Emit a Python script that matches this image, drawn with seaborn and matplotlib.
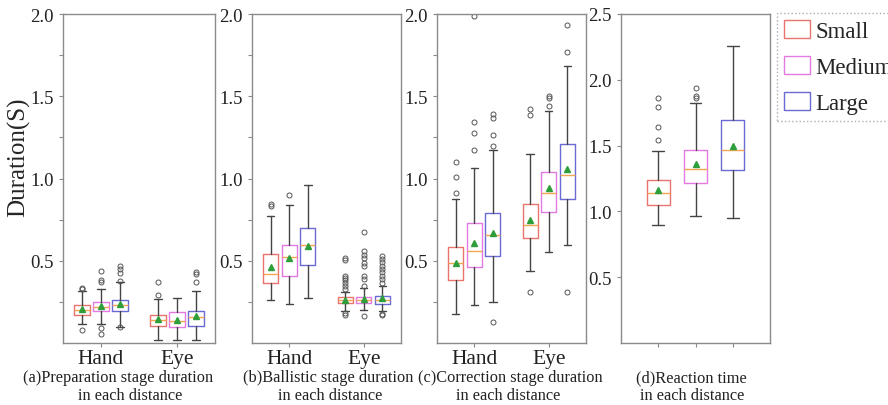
import numpy as np
import matplotlib.pyplot as plt
import seaborn as sns
from matplotlib.patches import Patch

# Set graph style
sns.set_style("ticks")
plt.rcParams['font.family'] = ['Liberation Serif', 'DejaVu Serif']

sizes = ['Small', 'Medium', 'Large']
modes = ['Hand', 'Eye']
box_colors = ['#e8746c', '#e27ae2', '#6a6ad6']

# Box order in panels a-c: Hand Small, Hand Medium, Hand Large, Eye Small, Eye Medium, Eye Large

# (a) Preparation stage duration
prep_lo = [0.115, 0.115, 0.10, 0.02, 0.02, 0.02]
prep_q1 = [0.172, 0.193, 0.196, 0.105, 0.095, 0.105]
prep_med = [0.20, 0.217, 0.231, 0.142, 0.136, 0.156]
prep_q3 = [0.231, 0.251, 0.263, 0.172, 0.187, 0.196]
prep_hi = [0.314, 0.328, 0.369, 0.267, 0.273, 0.318]
prep_mean = [0.207, 0.223, 0.237, 0.146, 0.139, 0.162]
prep_fliers = [[0.328, 0.333, 0.079],
               [0.369, 0.383, 0.44, 0.091, 0.055],
               [0.375, 0.425, 0.45, 0.47, 0.095],
               [0.294, 0.369],
               [],
               [0.373, 0.42, 0.433]]

# (b) Ballistic stage duration
ball_lo = [0.263, 0.239, 0.275, 0.196, 0.20, 0.193]
ball_q1 = [0.363, 0.405, 0.474, 0.241, 0.241, 0.239]
ball_med = [0.419, 0.521, 0.596, 0.26, 0.26, 0.264]
ball_q3 = [0.541, 0.596, 0.697, 0.278, 0.278, 0.286]
ball_hi = [0.774, 0.841, 0.962, 0.312, 0.333, 0.345]
ball_mean = [0.46, 0.519, 0.588, 0.264, 0.266, 0.274]
ball_fliers = [[0.835, 0.843],
               [0.90],
               [],
               [0.328, 0.348, 0.365, 0.381, 0.397, 0.409, 0.505, 0.515, 0.182, 0.17],
               [0.348, 0.389, 0.405, 0.466, 0.484, 0.517, 0.537, 0.557, 0.677, 0.166],
               [0.365, 0.389, 0.409, 0.43, 0.45, 0.47, 0.49, 0.51, 0.527, 0.178, 0.168]]

# (c) Correction stage duration
corr_lo = [0.176, 0.231, 0.251, 0.44, 0.551, 0.596]
corr_q1 = [0.385, 0.464, 0.529, 0.638, 0.798, 0.875]
corr_med = [0.484, 0.561, 0.655, 0.717, 0.91, 1.021]
corr_q3 = [0.582, 0.729, 0.792, 0.845, 1.04, 1.21]
corr_hi = [0.875, 1.064, 1.175, 1.151, 1.408, 1.686]
corr_mean = [0.487, 0.61, 0.669, 0.748, 0.942, 1.056]
corr_fliers = [[0.91, 1.007, 1.098],
               [1.173, 1.275, 1.341, 1.99],
               [1.20, 1.264, 1.368, 1.392, 0.13],
               [1.386, 1.422, 0.308],
               [1.439, 1.489, 1.503],
               [1.767, 1.933, 0.308]]

# (d) Reaction time: Small, Medium, Large
react_lo = [0.897, 0.963, 0.95]
react_q1 = [1.051, 1.218, 1.317]
react_med = [1.14, 1.32, 1.467]
react_q3 = [1.241, 1.464, 1.692]
react_hi = [1.461, 1.821, 2.255]
react_mean = [1.163, 1.36, 1.499]
react_fliers = [[1.543, 1.641, 1.796, 1.862],
                [1.862, 1.879, 1.94],
                []]

captions = [('(a)Preparation stage duration', 'in each distance'),
            ('(b)Ballistic stage duration', 'in each distance'),
            ('(c)Correction stage duration', 'in each distance'),
            ('(d)Reaction time', 'in each distance')]


def make_stats(lo, q1, med, q3, hi, mean, fliers):
    return [dict(whislo=lo[i], q1=q1[i], med=med[i], q3=q3[i], whishi=hi[i],
                 mean=mean[i], fliers=fliers[i]) for i in range(len(lo))]


def draw_boxes(ax, stats, positions, width):
    parts = ax.bxp(
        stats, positions=positions, widths=width, showmeans=True,
        manage_ticks=False,
        medianprops=dict(color='#f2a553', lw=1),
        meanprops=dict(marker='^', markerfacecolor='#2e9e3a',
                       markeredgecolor='#2e9e3a', markersize=4),
        flierprops=dict(marker='o', markerfacecolor='none',
                        markeredgecolor='#555555', markersize=3.6,
                        markeredgewidth=0.7),
        whiskerprops=dict(color='#444444', lw=1),
        capprops=dict(color='#444444', lw=1),
    )
    for i, box in enumerate(parts['boxes']):
        box.set_color(box_colors[i % 3])
        box.set_linewidth(1)


def style_axis(ax):
    for sp in ax.spines.values():
        sp.set_color('#8a8a8a')
        sp.set_linewidth(1)
    ax.tick_params(axis='both', direction='out', length=3, color='#8a8a8a',
                   labelsize=13.5, labelcolor='#222222', width=0.8)


fig = plt.figure(figsize=(8.88, 4.06), dpi=100)
W, H = 888, 406
lefts = [63, 252, 437, 621]
widths = [152, 149, 149, 149]
top, bottom = 15, 344

axes = [fig.add_axes([lefts[i] / W, (H - bottom) / H, widths[i] / W, (bottom - top) / H])
        for i in range(4)]

panel_data = [
    (prep_lo, prep_q1, prep_med, prep_q3, prep_hi, prep_mean, prep_fliers),
    (ball_lo, ball_q1, ball_med, ball_q3, ball_hi, ball_mean, ball_fliers),
    (corr_lo, corr_q1, corr_med, corr_q3, corr_hi, corr_mean, corr_fliers),
]

offsets = [-0.25, 0.0, 0.25]
group_pos = [g + o for g in range(len(modes)) for o in offsets]

yt = np.arange(0.25, 2.01, 0.25)
ytl = ['%.1f' % t if abs(t * 2 - round(t * 2)) < 1e-6 else '' for t in yt]

for k in range(3):
    ax = axes[k]
    draw_boxes(ax, make_stats(*panel_data[k]), group_pos, 0.2)
    ax.set_xlim(-0.5, 1.5)
    ax.set_ylim(0, 2.0)
    ax.set_yticks(yt)
    ax.set_yticklabels(ytl)
    ax.set_xticks(range(len(modes)))
    ax.set_xticklabels(modes)
    style_axis(ax)
    ax.tick_params(axis='x', labelsize=15.5, pad=1)

axes[0].set_ylabel('Duration(S)', fontsize=18)
axes[0].yaxis.set_label_coords(-0.215, 0.568)

ax = axes[3]
draw_boxes(ax, make_stats(react_lo, react_q1, react_med, react_q3, react_hi,
                          react_mean, react_fliers), offsets, 0.155)
ax.set_xlim(-0.5, 0.5)
ax.set_ylim(0, 2.5)
ax.set_yticks(np.arange(0.5, 2.51, 0.5))
ax.set_xticks(offsets)
ax.set_xticklabels(['', '', ''])
style_axis(ax)

# captions under each panel
cap_x = [(118, 130), (328, 330), (510, 508), (691, 692)]
for k in range(4):
    fig.text(cap_x[k][0] / W, 1 - 378 / H, captions[k][0], ha='center', va='center',
             fontsize=11.8, color='#222222')
    fig.text(cap_x[k][1] / W, 1 - 396 / H, captions[k][1], ha='center', va='center',
             fontsize=11.8, color='#222222')

handles = [Patch(facecolor='white', edgecolor=box_colors[i], label=sizes[i])
           for i in range(3)]
leg = fig.legend(handles=handles, loc='upper left', bbox_to_anchor=(777 / W, 1 - 14 / H),
                 fontsize=16.5, frameon=True, fancybox=False, edgecolor='#999999',
                 handlelength=1.14, handleheight=0.87, labelspacing=0.6,
                 borderpad=0.3, handletextpad=0.25, borderaxespad=0)
leg.get_frame().set_linestyle(':')
leg.get_frame().set_linewidth(1)

fig.savefig('out.png', dpi=100)
